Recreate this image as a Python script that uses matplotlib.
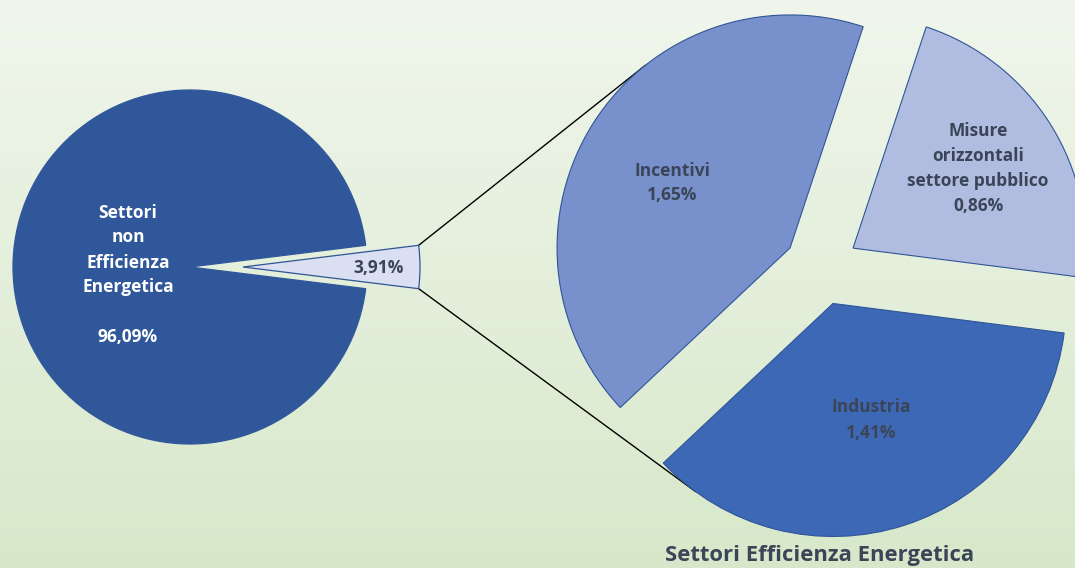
import math
import numpy as np
import matplotlib
matplotlib.use("Agg")
import matplotlib.pyplot as plt

# ---------------- data ----------------
main_labels = ["Settori\nnon\nEfficienza\nEnergetica", "Settori Efficienza Energetica"]
main_values = [96.09, 3.91]
sub_labels = ["Incentivi", "Industria", "Misure\norizzontali\nsettore pubblico"]
sub_values = [1.65, 1.41, 0.86]
title_text = "Settori Efficienza Energetica"

def fmt(v):
    return f"{v:.2f}%".replace(".", ",")

# ---------------- style / layout ----------------
plt.rcParams["font.family"] = ["Open Sans", "DejaVu Sans"]
W, H = 1075, 568
fig = plt.figure(figsize=(W / 100, H / 100), dpi=100)
ax = fig.add_axes([0, 0, 1, 1])

# background gradient
grad = np.linspace(0, 1, 256).reshape(-1, 1)
top = np.array([0xF0, 0xF6, 0xEC]) / 255
bot = np.array([0xD7, 0xE8, 0xCA]) / 255
img = top[None, None, :] * (1 - grad[:, :, None]) + bot[None, None, :] * grad[:, :, None]
ax.imshow(img, extent=(0, W, 0, H), origin="upper", aspect="auto", zorder=0,
          interpolation="bilinear")

edge = "#2F5597"
txt_col = "#3B4557"

# left pie
L_center = (190, 301)
L_r = 177
L_expl = 53
small_frac = main_values[1] / sum(main_values)
L_start = 180 * small_frac
wl, _ = ax.pie(main_values, colors=["#30579A", "#DAE0F1"], startangle=L_start,
               counterclock=True, explode=[0, L_expl], radius=L_r, center=L_center,
               wedgeprops=dict(linewidth=0.9), frame=True)
wl[0].set_edgecolor("#30579A")
wl[1].set_edgecolor(edge)
for w in wl:
    w.set_zorder(2)

# right pie
R_center = (821.5, 300)
R_r = 233
R_expl = 37.3
R_start = 71.7
wr, _ = ax.pie(sub_values, colors=["#7891CC", "#3D68B5", "#B1BDE0"], startangle=R_start,
               counterclock=True, explode=[R_expl] * 3, radius=R_r, center=R_center,
               wedgeprops=dict(linewidth=0.8, edgecolor=edge), frame=True)
for w in wr:
    w.set_zorder(2)

# connector lines (tangent from small wedge corners to exploded wedges)
sw = wl[1]
cx, cy = sw.center
p_up = (cx + L_r * math.cos(math.radians(sw.theta2)), cy + L_r * math.sin(math.radians(sw.theta2)))
p_dn = (cx + L_r * math.cos(math.radians(sw.theta1)), cy + L_r * math.sin(math.radians(sw.theta1)))

def tangent(p, wedge, upper):
    qx, qy = wedge.center
    dx, dy = p[0] - qx, p[1] - qy
    d = math.hypot(dx, dy)
    phi = math.atan2(dy, dx)
    a = math.acos(wedge.r / d)
    ang = phi - a if upper else phi + a
    return (qx + wedge.r * math.cos(ang), qy + wedge.r * math.sin(ang))

t_up = tangent(p_up, wr[0], True)
t_dn = tangent(p_dn, wr[1], False)
ax.plot([p_up[0], t_up[0]], [p_up[1], t_up[1]], color="black", lw=1.0, zorder=1)
ax.plot([p_dn[0], t_dn[0]], [p_dn[1], t_dn[1]], color="black", lw=1.0, zorder=1)

# labels
fs = 12.5
ls = 1.5
ax.text(128, 293, main_labels[0] + "\n\n" + fmt(main_values[0]), ha="center", va="center",
        color="white", fontsize=fs, fontweight="bold", linespacing=ls, zorder=3)
ax.text(379, 300, fmt(main_values[1]), ha="center", va="center",
        color=txt_col, fontsize=fs, fontweight="bold", zorder=3)
ax.text(672, 385, sub_labels[0] + "\n" + fmt(sub_values[0]), ha="center", va="center",
        color=txt_col, fontsize=fs, fontweight="bold", linespacing=ls, zorder=3)
ax.text(871, 148, sub_labels[1] + "\n" + fmt(sub_values[1]), ha="center", va="center",
        color=txt_col, fontsize=fs, fontweight="bold", linespacing=ls, zorder=3)
ax.text(978, 399.5, sub_labels[2] + "\n" + fmt(sub_values[2]), ha="center", va="center",
        color=txt_col, fontsize=fs, fontweight="bold", linespacing=ls, zorder=3)
ax.text(819.5, 13, title_text, ha="center", va="center",
        color=txt_col, fontsize=15.8, fontweight="bold", zorder=3)

ax.set_xlim(0, W)
ax.set_ylim(0, H)
ax.set_aspect("auto")
ax.axis("off")
fig.savefig("out.png", dpi=100)
